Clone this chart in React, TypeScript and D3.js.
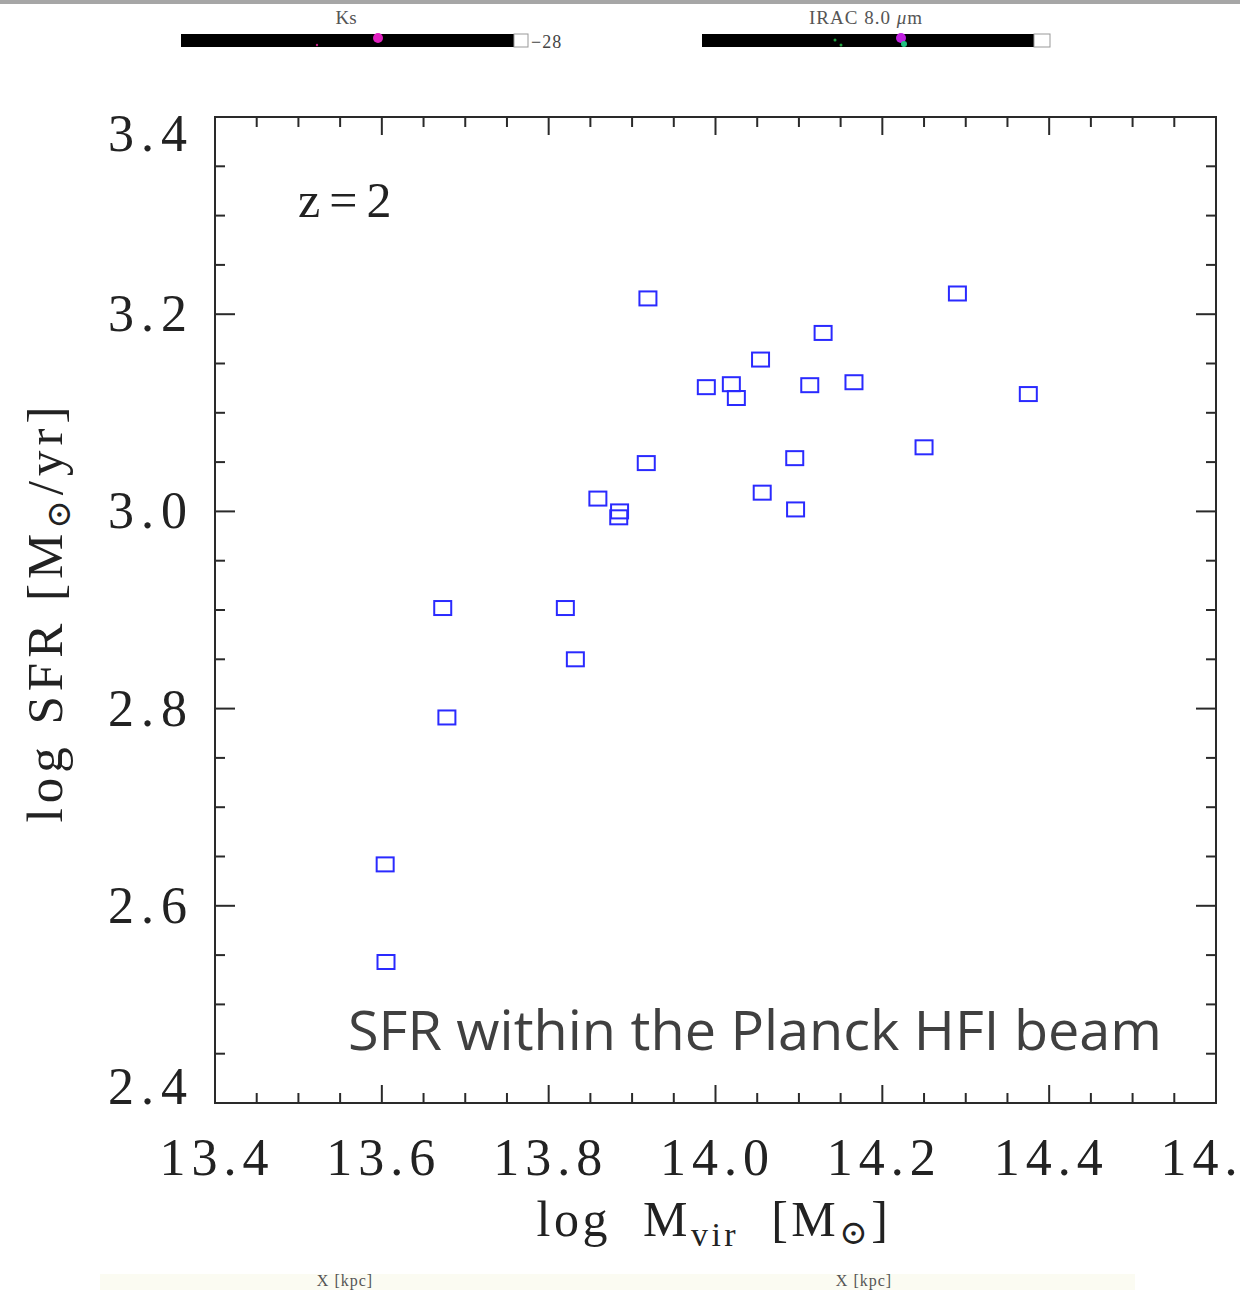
import React from "react";
import * as d3 from "d3";

const massX: number[] = [
  13.604, 13.605, 13.673, 13.678, 13.82, 13.832, 13.859, 13.885, 13.884, 13.917,
  13.919, 13.989, 14.019, 14.025, 14.054, 14.056, 14.095, 14.096, 14.113, 14.129,
  14.166, 14.25, 14.29, 14.375,
];
const sfrY: number[] = [
  2.642, 2.543, 2.902, 2.791, 2.902, 2.85, 3.013, 3.0, 2.994, 3.049,
  3.216, 3.126, 3.129, 3.115, 3.154, 3.019, 3.054, 3.002, 3.128, 3.181,
  3.131, 3.065, 3.221, 3.119,
];
const xMajorTicks: number[] = [13.4, 13.6, 13.8, 14.0, 14.2, 14.4, 14.6];
const yMajorTicks: number[] = [2.4, 2.6, 2.8, 3.0, 3.2, 3.4];
const xDomain: [number, number] = [13.4, 14.6];
const yDomain: [number, number] = [2.4, 3.4];

const W = 1240;
const H = 1292;
const left = 215;
const right = 1216;
const top = 117;
const bottom = 1103;

export default function App() {
  const x = d3.scaleLinear().domain(xDomain).range([left, right]);
  const y = d3.scaleLinear().domain(yDomain).range([bottom, top]);
  const xMinor = d3.range(0, 25).map((i) => 13.4 + i * 0.05).filter((v) => v <= 14.6 + 1e-9);
  const yMinor = d3.range(0, 21).map((i) => 2.4 + i * 0.05).filter((v) => v <= 3.4 + 1e-9);
  const isMajor = (v: number) => Math.abs(v * 5 - Math.round(v * 5)) < 1e-6;
  const axisCol = "#2a2a2a";
  const serif = "'Liberation Serif', 'DejaVu Serif', serif";
  const mw = 17;
  const mh = 14;

  return (
    <svg
      width={W}
      height={H}
      style={{ position: "absolute", left: 0, top: 0, background: "#fff" }}
    >
      {/* top strip with image fragments */}
      <rect x={0} y={0} width={W} height={4} fill="#a6a6a6" />
      <text x={346} y={24} textAnchor="middle" fontFamily={serif} fontSize={19} fill="#555">Ks</text>
      <text x={866} y={24} textAnchor="middle" fontFamily={serif} fontSize={19} fill="#555" letterSpacing={1}>
        IRAC 8.0 <tspan fontStyle="italic">μ</tspan>m
      </text>
      <rect x={181} y={34} width={333} height={13} fill="#000" />
      <rect x={514} y={34} width={14} height={13} fill="#fff" stroke="#999" strokeWidth={1} />
      <text x={531} y={48} fontFamily={serif} fontSize={18} fill="#444" letterSpacing={1}>−28</text>
      <circle cx={378} cy={38} r={5} fill="#e020c0" />
      <circle cx={317} cy={45} r={1.2} fill="#c02080" />
      <rect x={702} y={34} width={332} height={13} fill="#000" />
      <rect x={1034} y={34} width={16} height={13} fill="#fff" stroke="#999" strokeWidth={1} />
      <circle cx={901} cy={38} r={5} fill="#c020e0" />
      <circle cx={904} cy={44} r={3} fill="#20c080" />
      <circle cx={835} cy={40} r={1.5} fill="#20a040" />
      <circle cx={841} cy={45} r={1.5} fill="#20a040" />

      {/* frame */}
      <rect x={left} y={top} width={right - left} height={bottom - top} fill="none" stroke={axisCol} strokeWidth={2} />

      {/* ticks */}
      {xMinor.map((v, i) => {
        const len = isMajor(v) ? 18 : 10;
        return (
          <g key={"xt" + i}>
            <line x1={x(v)} x2={x(v)} y1={bottom} y2={bottom - len} stroke={axisCol} strokeWidth={2} />
            <line x1={x(v)} x2={x(v)} y1={top} y2={top + len} stroke={axisCol} strokeWidth={2} />
          </g>
        );
      })}
      {yMinor.map((v, i) => {
        const len = isMajor(v) ? 20 : 10;
        return (
          <g key={"yt" + i}>
            <line x1={left} x2={left + len} y1={y(v)} y2={y(v)} stroke={axisCol} strokeWidth={2} />
            <line x1={right} x2={right - len} y1={y(v)} y2={y(v)} stroke={axisCol} strokeWidth={2} />
          </g>
        );
      })}

      {/* x tick labels */}
      {xMajorTicks.map((v, i) => (
        <text key={"xl" + i} x={x(v) + 2} y={1175} textAnchor="middle" fontFamily={serif} fontSize={52} letterSpacing={6} fill="#222">
          {v.toFixed(1)}
        </text>
      ))}
      {/* y tick labels */}
      {yMajorTicks.map((v, i) => {
        let by = y(v) + 17;
        if (i === yMajorTicks.length - 1) by = y(v) + 34;
        if (i === 0) by = y(v) + 1;
        return (
          <text key={"yl" + i} x={194} y={by} textAnchor="end" fontFamily={serif} fontSize={52} letterSpacing={7} fill="#222">
            {v.toFixed(1)}
          </text>
        );
      })}

      {/* axis titles */}
      <text x={714} y={1236} textAnchor="middle" fontFamily={serif} fontSize={50} letterSpacing={3.5} fill="#222" xmlSpace="preserve">
        log  M<tspan fontSize={34} dy={10}>vir</tspan><tspan dy={-10}>  [M</tspan><tspan fontSize={34} dy={8}>⊙</tspan><tspan dy={-8}>]</tspan>
      </text>
      <text transform="translate(62,612) rotate(-90)" textAnchor="middle" fontFamily={serif} fontSize={51} letterSpacing={5} fill="#222" xmlSpace="preserve">
        log SFR [M<tspan fontSize={34} dy={8}>⊙</tspan><tspan dy={-8}>/yr]</tspan>
      </text>

      <text x={298} y={217} fontFamily={serif} fontSize={50} letterSpacing={9} fill="#222">z=2</text>

      {/* points */}
      {massX.map((mx, i) => (
        <rect
          key={"p" + i}
          x={x(mx) - mw / 2}
          y={y(sfrY[i]) - mh / 2}
          width={mw}
          height={mh}
          fill="none"
          stroke="#2a2aff"
          strokeWidth={2}
        />
      ))}

      <text x={348} y={1050} fontFamily="'Open Sans', 'Noto Sans', sans-serif" fontSize={54} fill="#404040" textLength={814} lengthAdjust="spacingAndGlyphs">
        SFR within the Planck HFI beam
      </text>

      {/* bottom strip */}
      <rect x={100} y={1274} width={1035} height={16} fill="#fbfbf2" />
      <text x={345} y={1286} textAnchor="middle" fontFamily={serif} fontSize={16} fill="#555" letterSpacing={1}>X [kpc]</text>
      <text x={864} y={1286} textAnchor="middle" fontFamily={serif} fontSize={16} fill="#555" letterSpacing={1}>X [kpc]</text>
    </svg>
  );
}
